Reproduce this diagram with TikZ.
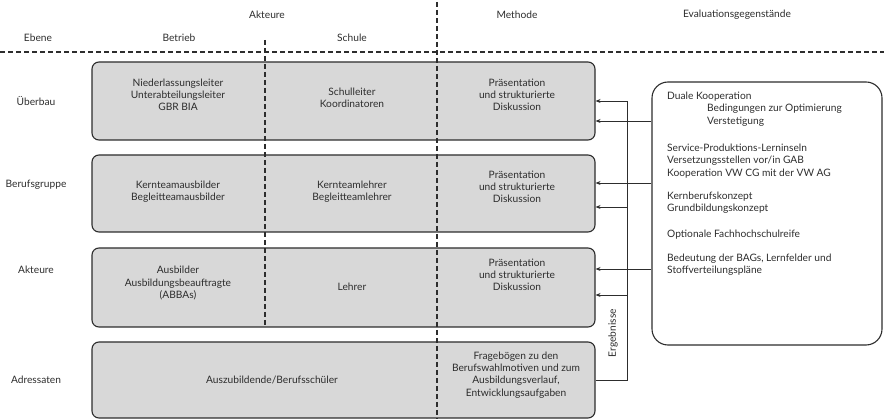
\documentclass[tikz,border=0pt]{standalone}
\usepackage{fontspec}
\setmainfont{Lato}
\usetikzlibrary{arrows.meta}

\definecolor{boxfill}{RGB}{216,216,216}
\definecolor{ink}{RGB}{45,45,45}

\tikzset{
  rowbox/.style={draw=ink, fill=boxfill, line width=1.1pt, rounded corners=7pt, minimum width=503pt},
  evalbox/.style={draw=ink, line width=1.1pt, rounded corners=16pt, minimum width=230pt, minimum height=263pt},
  cell/.style={align=center, text=ink, inner sep=0pt},
  evaltext/.style={align=left, text=ink, inner sep=0pt, anchor=north west},
  sepline/.style={draw=ink, line width=1.1pt, dash pattern=on 5pt off 3pt},
  arr/.style={draw=ink, line width=0.9pt, -{Stealth[length=5pt,width=4pt]}},
}

\begin{document}
\begin{tikzpicture}[x=1pt,y=-1pt,font=\fontsize{10.2}{12.2}\selectfont]
\useasboundingbox (0,0) rectangle (884,419);

% Kopfzeilen
\node[cell] (h-akteure) at (267,15) {Akteure};
\node[cell] (h-methode) at (517,15) {Methode};
\node[cell] (h-eval) at (737,15) {Evaluationsgegenstände};
\node[cell] (h-ebene) at (38,38) {Ebene};
\node[cell] (h-betrieb) at (179,38) {Betrieb};
\node[cell] (h-schule) at (352,38) {Schule};

% Ebenen
\node[rowbox, minimum height=78pt] (ueberbau) at (343.5,101) {};
\node[rowbox, minimum height=77pt] (berufsgruppe) at (343.5,193.5) {};
\node[rowbox, minimum height=79pt] (akteure) at (343.5,287.5) {};
\node[rowbox, minimum height=76pt] (adressaten) at (343.5,380) {};

\node[cell] (l-ueberbau) at (36,101) {Überbau};
\node[cell] (l-berufsgruppe) at (36,185) {Berufsgruppe};
\node[cell] (l-akteure) at (36,270) {Akteure};
\node[cell] (l-adressaten) at (36,380) {Adressaten};

% Trennlinien
\draw[sepline] (0,52) -- (884,52);
\draw[sepline] (265,40) -- (265,327);
\draw[sepline] (437,2) -- (437,419);

% Zellen
\node[cell] (ub-betrieb) at (178,95) {Niederlassungsleiter\\Unterabteilungsleiter\\GBR BIA};
\node[cell] (ub-schule) at (352,98) {Schulleiter\\Koordinatoren};
\node[cell] (ub-methode) at (517,95) {Präsentation\\und strukturierte\\Diskussion};

\node[cell] (bg-betrieb) at (178,192) {Kernteamausbilder\\Begleitteamausbilder};
\node[cell] (bg-schule) at (352,192) {Kernteamlehrer\\Begleitteamlehrer};
\node[cell] (bg-methode) at (517,187) {Präsentation\\und strukturierte\\Diskussion};

\node[cell] (ak-betrieb) at (178,283) {Ausbilder\\Ausbildungsbeauftragte\\(ABBAs)};
\node[cell] (ak-schule) at (352,287) {Lehrer};
\node[cell] (ak-methode) at (517,275) {Präsentation\\und strukturierte\\Diskussion};

\node[cell] (ad-akteure) at (272,380) {Auszubildende/Berufsschüler};
\node[cell] (ad-methode) at (516,375) {Fragebögen zu den\\Berufswahlmotiven und zum\\Ausbildungsverlauf,\\Entwicklungsaufgaben};

% Evaluationsgegenstaende
\node[evalbox] (eval) at (767,213.5) {};
\node[evaltext] (ev-dual) at (667,92) {Duale Kooperation\\\hspace*{40pt}Bedingungen zur Optimierung\\\hspace*{40pt}Verstetigung};
\node[evaltext] (ev-service) at (667,144) {Service-Produktions-Lerninseln\\Versetzungsstellen vor/in GAB\\Kooperation VW CG mit der VW AG};
\node[evaltext] (ev-kern) at (667,192) {Kernberufskonzept\\Grundbildungskonzept};
\node[evaltext] (ev-fh) at (667,230) {Optionale Fachhochschulreife};
\node[evaltext] (ev-bag) at (667,254) {Bedeutung der BAGs, Lernfelder und\\Stoffverteilungspläne};

% Rueckmeldung
\coordinate (ergtop) at (627,101);
\coordinate (ergbot) at (627,380);
\draw[arr] (adressaten.east |- ergbot) -- (ergbot) -- (ergtop) -- (ueberbau.east |- ergtop);
\draw[arr] (ergbot |- 0,207) -- (berufsgruppe.east |- 0,207);
\draw[arr] (ergbot |- 0,295) -- (akteure.east |- 0,295);
\node[cell, rotate=90] (ergebnisse) at (613,333) {Ergebnisse};

\draw[arr] (eval.west |- 0,121) -- (ueberbau.east |- 0,121);
\draw[arr] (eval.west |- 0,183) -- (berufsgruppe.east |- 0,183);
\draw[arr] (eval.west |- 0,269) -- (akteure.east |- 0,269);

\end{tikzpicture}
\end{document}
